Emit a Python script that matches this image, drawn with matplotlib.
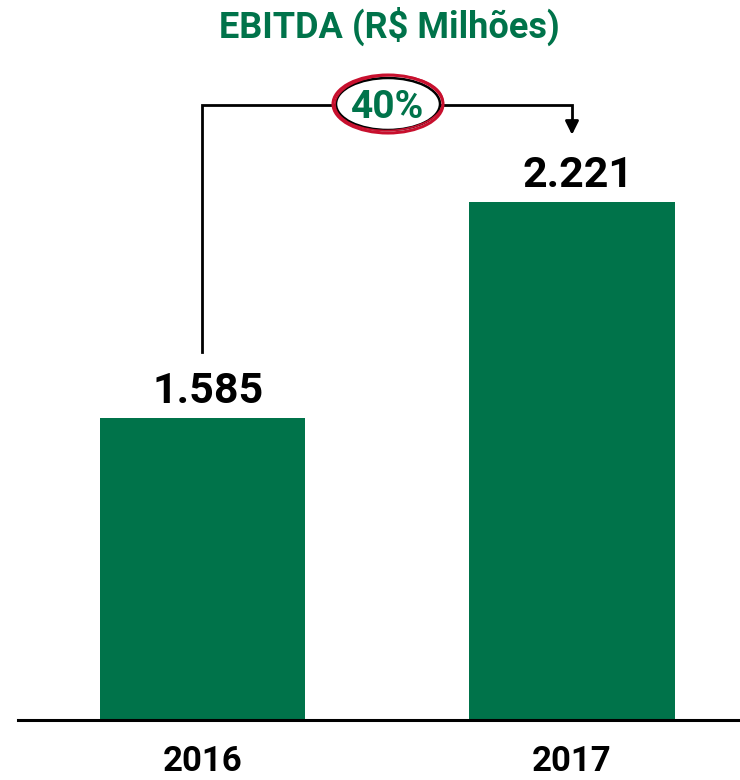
import matplotlib
matplotlib.use("Agg")
import matplotlib.pyplot as plt
from matplotlib.patches import Ellipse

categories = ["2016", "2017"]
values = [1585, 2221]
value_labels = ["1.585", "2.221"]
growth_label = "40%"
title = "EBITDA (R$ Milhões)"

GREEN = "#00734A"
RED = "#C8102E"
W, H = 740, 780

plt.rcParams['font.family'] = ['Roboto', 'DejaVu Sans']

fig = plt.figure(figsize=(W / 100, H / 100), dpi=100)
ax = fig.add_axes([18 / W, 60 / H, 722 / W, 660 / H])

x = list(range(len(categories)))
ax.bar(x, values, width=0.555, color=GREEN, zorder=2)
ax.set_xlim(-0.4993, 1.4547)
ax.set_ylim(696, 2639)

for s in ["top", "right", "left"]:
    ax.spines[s].set_visible(False)
ax.spines["bottom"].set_linewidth(2.2)
ax.spines["bottom"].set_color("black")
ax.set_xticks([])
ax.set_yticks([])

# value labels
for xi, v, lab in zip(x, values, value_labels):
    ax.annotate(lab, xy=(xi, v), xytext=(4, 10.8), textcoords="offset points",
                ha="center", va="baseline", fontsize=31, fontweight="bold", color="black")

# category labels
for xi, c in zip(x, categories):
    ax.annotate(c, xy=(xi, 0), xycoords=("data", "axes fraction"), xytext=(0, -36.5),
                textcoords="offset points", ha="center", va="baseline",
                fontsize=25, fontweight="bold", color="black", annotation_clip=False)

# bracket
top_y = max(values) + 286
ax.plot([x[0], x[0], x[1], x[1]], [values[0] + 195, top_y, top_y, top_y - 40],
        color="black", lw=2, solid_joinstyle="miter", clip_on=False, zorder=3)
ax.annotate("", xy=(x[1], values[1] + 198), xytext=(x[1], top_y - 45),
            arrowprops=dict(arrowstyle="-|>,head_length=0.8,head_width=0.4", color="black", lw=2,
                            shrinkA=0, shrinkB=0), annotation_clip=False)

# ellipse with growth
cx, cy = 388 / W, 1 - 104 / H
fig.patches.append(Ellipse((cx, cy), 104 / W, 52 / H, transform=fig.transFigure,
                           facecolor="white", edgecolor="black", lw=1.8, zorder=5))
fig.patches.append(Ellipse((cx, cy), 110 / W, 58 / H, transform=fig.transFigure,
                           facecolor="none", edgecolor=RED, lw=2.2, zorder=6))
fig.patches.append(Ellipse((cx + 1 / W, cy + 1 / H), 108 / W, 55 / H, angle=2,
                           transform=fig.transFigure,
                           facecolor="none", edgecolor=RED, lw=1.2, zorder=6))
fig.text(cx, cy, growth_label, ha="center", va="center_baseline", fontsize=28,
         fontweight="bold", color=GREEN, zorder=7)

fig.text(389 / W, 1 - 38 / H, title, ha="center", va="baseline", fontsize=26,
         fontweight="bold", color=GREEN)

fig.savefig("out.png", dpi=100)
